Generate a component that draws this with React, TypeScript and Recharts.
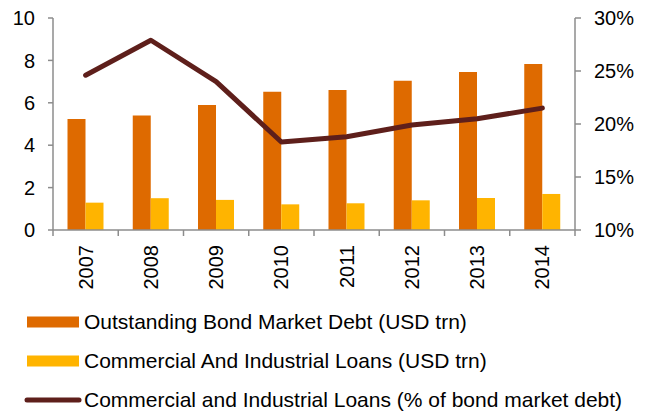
import {
  ComposedChart,
  Bar,
  Line,
  XAxis,
  YAxis,
  Legend,
} from "recharts";

const years = ["2007", "2008", "2009", "2010", "2011", "2012", "2013", "2014"];
const bondDebt = [5.24, 5.4, 5.9, 6.52, 6.6, 7.04, 7.45, 7.83];
const ciLoans = [1.29, 1.5, 1.42, 1.21, 1.26, 1.4, 1.51, 1.7];
const ciPct = [24.6, 27.9, 24.0, 18.3, 18.8, 19.9, 20.5, 21.5];

const leftTicks = [0, 2, 4, 6, 8, 10];
const rightTicks = [10, 15, 20, 25, 30];

const data = years.map((year, i) => ({
  year,
  bond: bondDebt[i],
  loans: ciLoans[i],
  pct: ciPct[i],
}));

const ORANGE = "#DE6A00";
const YELLOW = "#FFB400";
const BROWN  = "#5E1F1B";
const AXIS   = "#8C8C8C";
const TEXT   = "#000000";
const FONT   = "'Liberation Sans', Arial, sans-serif";

const axisTick = { fontSize: 20, fill: TEXT, fontFamily: FONT };

function YearTick(props: any) {
  const { x, y, payload, index, width } = props;
  const band = (width ?? 524) / years.length;
  const left = x - band / 2;
  const ty = y + 15;
  return (
    <g>
      <line x1={left} y1={y} x2={left} y2={y + 6} stroke={AXIS} strokeWidth={1.5} />
      {index === years.length - 1 && (
        <line x1={x + band / 2} y1={y} x2={x + band / 2} y2={y + 6} stroke={AXIS} strokeWidth={1.5} />
      )}
      <text
        x={x}
        y={ty}
        transform={`rotate(-90 ${x} ${ty})`}
        textAnchor="end"
        dominantBaseline="central"
        fontSize={20}
        fontFamily={FONT}
        fill={TEXT}
      >
        {payload.value}
      </text>
    </g>
  );
}

const legendItems = [
  { label: "Outstanding Bond Market Debt (USD trn)", color: ORANGE, kind: "bar" },
  { label: "Commercial And Industrial Loans (USD trn)", color: YELLOW, kind: "bar" },
  { label: "Commercial and Industrial Loans (% of bond market debt)", color: BROWN, kind: "line" },
];

function LegendContent() {
  return (
    <div style={{ fontFamily: FONT, fontSize: 21, color: TEXT }}>
      {legendItems.map((item) => (
        <div key={item.label} style={{ height: 39, display: "flex", alignItems: "center", whiteSpace: "nowrap" }}>
          <svg width={84} height={14} style={{ flex: "none" }}>
            {item.kind === "bar" ? (
              <rect x={27} y={1.5} width={52} height={11} fill={item.color} />
            ) : (
              <line x1={27} y1={7} x2={79} y2={7} stroke={item.color} strokeWidth={5} strokeLinecap="round" />
            )}
          </svg>
          <span>{item.label}</span>
        </div>
      ))}
    </div>
  );
}

export default function App() {
  return (
    <div style={{ position: "absolute", left: 0, top: 0, width: 650, height: 414, background: "#fff" }}>
      <ComposedChart
        width={650}
        height={414}
        data={data}
        margin={{ top: 18, right: 0, left: 0, bottom: 114 }}
        barGap={0}
        barCategoryGap={14.5}
      >
        <XAxis
          dataKey="year"
          height={70}
          tick={<YearTick />}
          tickLine={false}
          tickSize={0}
          tickMargin={0}
          axisLine={{ stroke: AXIS, strokeWidth: 1.5 }}
          interval={0}
        />
        <YAxis
          yAxisId="left"
          domain={[0, 10]}
          ticks={leftTicks}
          width={53}
          tick={axisTick}
          tickSize={5}
          tickMargin={13}
          tickLine={{ stroke: AXIS, strokeWidth: 1.5 }}
          axisLine={{ stroke: AXIS, strokeWidth: 1.5 }}
          interval={0}
        />
        <YAxis
          yAxisId="pct"
          orientation="right"
          domain={[10, 30]}
          ticks={rightTicks}
          tickFormatter={(v: number) => `${v}%`}
          width={75}
          tick={axisTick}
          tickSize={6}
          tickMargin={13}
          tickLine={{ stroke: AXIS, strokeWidth: 1.5 }}
          axisLine={{ stroke: AXIS, strokeWidth: 1.5 }}
          interval={0}
        />
        <Legend
          layout="horizontal"
          verticalAlign="middle"
          align="center"
          wrapperStyle={{ left: 0, top: 302, width: 650 }}
          content={<LegendContent />}
        />
        <Bar yAxisId="left" dataKey="bond" fill={ORANGE} isAnimationActive={false} />
        <Bar yAxisId="left" dataKey="loans" fill={YELLOW} isAnimationActive={false} />
        <Line
          yAxisId="pct"
          type="linear"
          dataKey="pct"
          stroke={BROWN}
          strokeWidth={5}
          strokeLinecap="round"
          strokeLinejoin="round"
          dot={false}
          activeDot={false}
          isAnimationActive={false}
        />
      </ComposedChart>
    </div>
  );
}
